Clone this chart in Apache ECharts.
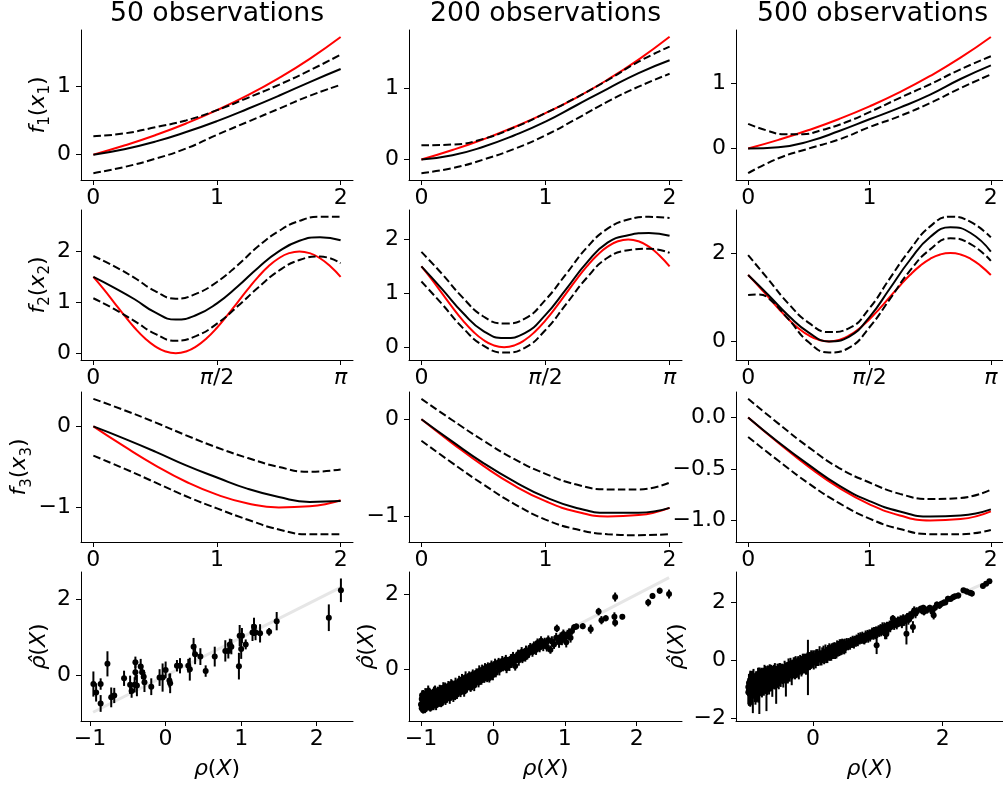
<!DOCTYPE html>
<html><head><meta charset="utf-8">
<script src="https://cdn.jsdelivr.net/npm/echarts@6/dist/echarts.min.js"></script>
<style>html,body{margin:0;padding:0;background:#fff}#c{width:1003px;height:786px}</style>
</head><body><div id="c"></div>
<script>
// ---------------- data ----------------
const titles = ['50 observations', '200 observations', '500 observations'];

// row 1 : f1
const x025 = [0, 0.25, 0.5, 0.75, 1, 1.25, 1.5, 1.75, 2];
const f1True = [0, 0.133, 0.284, 0.455, 0.649, 0.868, 1.117, 1.399, 1.718];
const f1Est50 = [0, 0.08, 0.19, 0.33, 0.49, 0.67, 0.86, 1.06, 1.25];
const f1Up50 = [0.27, 0.31, 0.40, 0.50, 0.65, 0.83, 1.02, 1.23, 1.46];
const f1Lo50 = [-0.27, -0.18, -0.06, 0.09, 0.29, 0.48, 0.67, 0.86, 1.02];
const f1Est200 = [0, 0.06, 0.18, 0.34, 0.53, 0.76, 0.99, 1.21, 1.39];
const f1Up200 = [0.20, 0.21, 0.29, 0.45, 0.65, 0.87, 1.11, 1.37, 1.58];
const f1Lo200 = [-0.19, -0.12, 0.0, 0.15, 0.34, 0.57, 0.81, 1.02, 1.20];
const f1Est500 = [0, 0.02, 0.11, 0.27, 0.45, 0.63, 0.83, 1.07, 1.28];
const f1Up500X = [0, 0.15, 0.3, 0.45, 0.6, 0.8, 1, 1.25, 1.5, 1.75, 2];
const f1Up500 = [0.38, 0.28, 0.22, 0.22, 0.28, 0.40, 0.56, 0.78, 0.99, 1.22, 1.42];
const f1Lo500 = [-0.38, -0.15, 0.0, 0.14, 0.33, 0.50, 0.70, 0.93, 1.14];

// row 2 : f2
const xPi24 = [0, 0.1309, 0.2618, 0.3927, 0.5236, 0.6545, 0.7854, 0.9163, 1.0472, 1.1781, 1.309, 1.4399, 1.5708, 1.7017, 1.8326, 1.9635, 2.0944, 2.2253, 2.3562, 2.4871, 2.618, 2.7489, 2.8798, 3.0107, 3.1416];
const f2True = [1.5, 1.259, 1, 0.741, 0.5, 0.293, 0.134, 0.034, 0, 0.034, 0.134, 0.293, 0.5, 0.741, 1, 1.259, 1.5, 1.707, 1.866, 1.966, 2, 1.966, 1.866, 1.707, 1.5];
const xPi12 = [0, 0.2618, 0.5236, 0.7854, 1.0472, 1.309, 1.5708, 1.8326, 2.0944, 2.3562, 2.618, 2.8798, 3.1416];
const f2Est50 = [1.5, 1.29, 1.06, 0.80, 0.66, 0.75, 0.98, 1.31, 1.68, 2.0, 2.21, 2.28, 2.22];
const f2Up50 = [1.91, 1.71, 1.48, 1.22, 1.07, 1.17, 1.40, 1.73, 2.10, 2.40, 2.60, 2.68, 2.68];
const f2Lo50 = [1.08, 0.87, 0.63, 0.38, 0.245, 0.34, 0.58, 0.92, 1.29, 1.62, 1.83, 1.90, 1.77];
const f2Est200 = [1.5, 1.08, 0.64, 0.30, 0.17, 0.26, 0.60, 1.08, 1.57, 1.94, 2.08, 2.12, 2.07];
const f2Up200 = [1.77, 1.36, 0.92, 0.57, 0.44, 0.53, 0.88, 1.36, 1.85, 2.20, 2.37, 2.42, 2.40];
const f2Lo200 = [1.22, 0.80, 0.36, 0.03, -0.10, -0.01, 0.32, 0.80, 1.29, 1.66, 1.80, 1.83, 1.75];
const f2Est500 = [1.5, 1.05, 0.58, 0.20, 0.0, 0.11, 0.55, 1.19, 1.84, 2.36, 2.58, 2.45, 2.03];
const f2Up500 = [1.95, 1.40, 0.85, 0.42, 0.21, 0.30, 0.75, 1.42, 2.07, 2.60, 2.82, 2.70, 2.35];
const f2Lo500X = [0, 0.131, 0.2618, 0.5236, 0.7854, 1.0472, 1.309, 1.5708, 1.8326, 2.0944, 2.3562, 2.618, 2.8798, 3.1416];
const f2Lo500 = [1.05, 1.06, 0.98, 0.50, -0.02, -0.25, -0.14, 0.32, 0.95, 1.60, 2.08, 2.33, 2.20, 1.82];

// row 3 : f3
const f3True = [0, -0.247, -0.479, -0.682, -0.841, -0.949, -0.998, -0.984, -0.909];
const f3Est50 = [0, -0.15, -0.31, -0.48, -0.63, -0.77, -0.87, -0.93, -0.92];
const f3Up50 = [0.34, 0.20, 0.05, -0.11, -0.26, -0.39, -0.50, -0.56, -0.53];
const f3Lo50 = [-0.36, -0.52, -0.69, -0.86, -1.01, -1.15, -1.27, -1.33, -1.33];
const f3Est200 = [0, -0.23, -0.45, -0.64, -0.80, -0.91, -0.96, -0.96, -0.91];
const f3Up200 = [0.21, -0.01, -0.22, -0.41, -0.56, -0.67, -0.72, -0.72, -0.65];
const f3Lo200 = [-0.22, -0.45, -0.67, -0.87, -1.03, -1.13, -1.18, -1.19, -1.18];
const f3Est500 = [0, -0.24, -0.46, -0.66, -0.81, -0.91, -0.96, -0.95, -0.89];
const f3Up500 = [0.18, -0.06, -0.29, -0.49, -0.63, -0.74, -0.79, -0.78, -0.70];
const f3Lo500 = [-0.19, -0.42, -0.64, -0.83, -0.98, -1.08, -1.13, -1.13, -1.09];

// row 4 : [rho(X), rhoHat(X), error]
const obs50 = [[-0.956,-0.22,.33],[-0.92,-0.44,.24],[-0.86,-0.22,.15],[-0.86,-0.73,.22],[-0.77,0.31,.33],[-0.72,-0.57,.26],[-0.68,-0.52,.2],[-0.55,-0.07,.2],[-0.47,-0.24,.24],[-0.45,-0.4,.18],[-0.41,-0.24,.2],[-0.4,0.35,.15],[-0.4,0.09,.2],[-0.38,-0.26,.28],[-0.33,0.24,.2],[-0.31,0.09,.18],[-0.29,-0.03,.18],[-0.28,-0.17,.26],[-0.19,-0.29,.22],[-0.08,-0.05,.22],[-0.04,-0.05,.37],[0.0,0.15,.22],[0.05,-0.13,.18],[0.06,-0.2,.26],[0.15,0.26,.15],[0.19,0.26,.2],[0.3,0.26,.18],[0.32,0.17,.3],[0.37,0.76,.23],[0.39,0.56,.26],[0.46,0.5,.22],[0.53,0.12,.15],[0.65,0.5,.26],[0.79,0.65,.28],[0.83,0.65,.2],[0.85,0.82,.15],[0.87,0.76,.2],[0.97,0.25,.35],[0.98,1.05,.28],[1.0,0.7,.26],[1.01,1.05,.2],[1.06,0.82,.13],[1.15,1.13,.22],[1.17,1.28,.24],[1.19,1.13,.2],[1.25,1.11,.24],[1.37,1.15,.1],[1.47,1.43,.24],[2.16,1.52,.35],[2.32,2.24,.31]];

const obs200 = [[-1.00,-0.95,.12],[-0.99,-1.05,.10],[-0.99,-0.80,.14],[-0.98,-0.90,.12],[-0.97,-1.10,.09],[-0.97,-0.72,.16],[-0.96,-0.98,.11],[-0.95,-0.85,.13],[-0.95,-1.02,.10],[-0.94,-0.66,.15],[-0.93,-0.93,.12],[-0.92,-0.78,.18],[-0.91,-1.00,.10],[-0.90,-0.88,.13],[-0.90,-0.58,.14],[-0.89,-0.95,.11],[-0.88,-0.74,.12],[-0.87,-1.04,.10],[-0.86,-0.83,.15],[-0.85,-0.68,.12],[-0.84,-0.92,.11],[-0.83,-0.78,.16],[-0.82,-0.60,.13],[-0.81,-0.88,.12],[-0.80,-0.71,.10],[-0.79,-0.97,.13],[-0.78,-0.80,.12],[-0.77,-0.62,.15],[-0.76,-0.75,.11],[-0.75,-0.86,.14],[-0.74,-0.55,.13],[-0.73,-0.70,.12],[-0.72,-0.92,.10],[-0.71,-0.66,.14],[-0.70,-0.78,.12],[-0.69,-0.50,.15],[-0.68,-0.72,.11],[-0.67,-0.60,.13],[-0.66,-0.84,.12],[-0.65,-0.68,.10],[-0.64,-0.55,.14],[-0.63,-0.73,.12],[-0.62,-0.45,.13],[-0.61,-0.62,.11],[-0.60,-0.78,.15],[-0.59,-0.57,.12],[-0.58,-0.40,.13],[-0.57,-0.66,.12],[-0.56,-0.52,.10],[-0.55,-0.74,.14],[-0.54,-0.48,.12],[-0.53,-0.60,.13],[-0.52,-0.38,.15],[-0.51,-0.55,.11],[-0.50,-0.68,.12],
[-0.985,-0.70,.13],[-0.965,-0.88,.15],[-0.945,-1.08,.1],[-0.925,-0.75,.12],[-0.905,-0.96,.14],[-0.885,-0.62,.12],[-0.865,-0.94,.11],[-0.845,-0.70,.13],[-0.825,-0.98,.12],[-0.805,-0.58,.14],[-0.785,-0.85,.12],[-0.765,-0.68,.13],[-0.745,-0.90,.11],[-0.725,-0.58,.15],[-0.705,-0.86,.12],[-0.685,-0.64,.13],[-0.665,-0.48,.12],[-0.645,-0.75,.14],[-0.625,-0.62,.12],[-0.605,-0.50,.13],[-0.585,-0.70,.11],[-0.565,-0.44,.14],[-0.545,-0.62,.12],[-0.525,-0.70,.13],
[-0.49,-0.44,.13],[-0.48,-0.58,.12],[-0.47,-0.32,.14],[-0.46,-0.50,.11],[-0.45,-0.62,.13],[-0.44,-0.40,.12],[-0.43,-0.28,.15],[-0.42,-0.52,.12],[-0.41,-0.36,.10],[-0.40,-0.60,.14],[-0.39,-0.45,.12],[-0.38,-0.22,.16],[-0.37,-0.38,.11],[-0.36,-0.50,.13],[-0.35,-0.30,.12],[-0.34,-0.42,.14],[-0.33,-0.18,.12],[-0.32,-0.35,.13],[-0.31,-0.50,.11],[-0.30,-0.25,.14],[-0.29,-0.38,.12],[-0.28,-0.14,.13],[-0.27,-0.30,.12],[-0.26,-0.44,.15],[-0.25,-0.22,.11],[-0.24,-0.34,.13],[-0.23,-0.10,.12],[-0.22,-0.28,.14],[-0.21,-0.18,.12],[-0.20,-0.36,.13],[-0.19,-0.05,.15],[-0.18,-0.22,.11],[-0.17,-0.12,.13],[-0.16,-0.30,.12],[-0.15,-0.02,.14],[-0.14,-0.18,.12],[-0.13,-0.08,.13],[-0.12,-0.26,.11],[-0.11,0.02,.14],[-0.10,-0.14,.12],[-0.09,-0.04,.13],[-0.08,-0.20,.15],[-0.07,0.06,.12],[-0.06,-0.10,.13],[-0.05,-0.24,.12],[-0.04,0.00,.14],[-0.03,-0.12,.12],[-0.02,0.10,.13],[-0.01,-0.06,.12],[0.00,-0.16,.14],
[0.01,0.04,.12],[0.03,0.14,.14],[0.04,-0.10,.12],[0.06,0.08,.13],[0.08,0.18,.12],[0.09,-0.02,.15],[0.11,0.12,.12],[0.13,0.22,.13],[0.14,0.06,.12],[0.16,0.16,.14],[0.18,0.26,.12],[0.19,0.02,.13],[0.21,0.20,.12],[0.23,0.10,.15],[0.25,0.28,.12],[0.26,0.16,.13],[0.28,0.34,.12],[0.30,0.22,.14],[0.31,0.08,.12],[0.33,0.30,.13],[0.35,0.40,.12],[0.36,0.24,.15],[0.38,0.36,.12],[0.40,0.46,.13],[0.41,0.28,.12],[0.43,0.40,.14],[0.45,0.32,.12],[0.46,0.50,.13],[0.48,0.38,.12],[0.50,0.44,.14],
[0.52,0.58,.12],[0.55,0.46,.13],[0.57,0.62,.12],[0.60,0.52,.14],[0.62,0.70,.12],[0.65,0.58,.13],[0.67,0.76,.12],[0.70,0.62,.14],[0.72,0.72,.12],[0.75,0.60,.13],[0.77,0.78,.12],[0.80,0.52,.11],[0.82,0.74,.14],[0.85,0.66,.12],[0.88,0.84,.13],[0.89,1.09,.10],[0.92,0.72,.15],[0.94,0.86,.12],[0.96,0.78,.14],[0.98,0.94,.12],[1.00,0.85,.13],[1.02,0.72,.14],[1.04,0.92,.12],[1.06,0.98,.11],[1.08,0.84,.13],[1.10,1.02,.10],[1.13,1.12,.08],[1.16,1.14,.08],
[1.25,1.15,.08],[1.36,1.07,.12],[1.47,1.54,.1],[1.51,1.31,.11],[1.57,1.36,.08],[1.69,1.40,.12],[1.70,1.93,.12],[1.70,1.24,.1],[1.80,1.40,.07],[2.16,1.78,.1],[2.22,1.96,.08],[2.32,2.10,.08],[2.45,2.01,.12]];

const obs500 = [[-1.00,-0.92,.30],[-1.00,-1.10,.42],[-0.99,-0.78,.25],[-0.99,-1.02,.55],[-0.98,-0.88,.35],[-0.98,-1.15,.30],[-0.97,-0.70,.28],[-0.97,-0.98,.62],[-0.96,-0.84,.40],[-0.96,-1.20,.35],[-0.95,-0.95,.30],[-0.95,-0.75,.38],[-0.94,-1.05,.45],[-0.94,-0.85,.28],[-0.93,-1.12,.70],[-0.93,-0.68,.32],[-0.92,-0.95,.36],[-0.92,-0.80,.50],[-0.91,-1.02,.30],[-0.91,-0.72,.26],[-0.90,-0.88,.42],[-0.90,-1.10,.34],[-0.89,-0.78,.30],[-0.89,-0.98,.55],[-0.88,-0.66,.28],[-0.88,-0.90,.36],[-0.87,-1.05,.40],[-0.87,-0.82,.30],[-0.86,-0.72,.34],[-0.86,-0.96,.46],[-0.85,-0.85,.28],[-0.85,-0.62,.36],[-0.84,-0.92,.30],[-0.84,-1.08,.38],[-0.83,-0.78,.32],[-0.83,-1.05,.80],[-0.82,-0.68,.34],[-0.82,-0.90,.28],[-0.81,-0.80,.42],[-0.81,-0.60,.30],[-0.80,-0.88,.36],[-0.80,-0.74,.48],[-0.79,-0.96,.32],[-0.79,-0.66,.28],[-0.78,-0.80,.40],[-0.78,-0.58,.30],[-0.77,-0.86,.34],[-0.77,-0.72,.46],[-0.76,-0.64,.32],[-0.76,-0.92,.30],[-0.75,-0.78,.36],[-0.75,-0.56,.40],[-0.74,-0.84,.30],[-0.74,-0.70,.34],[-0.73,-0.62,.42],[-0.73,-0.88,.28],[-0.72,-0.74,.32],[-0.72,-1.00,.75],[-0.71,-0.60,.30],[-0.71,-0.82,.38],[-0.70,-0.70,.28],[-0.70,-0.52,.34],[-0.69,-0.78,.32],[-0.69,-0.64,.44],[-0.68,-0.58,.30],[-0.68,-0.84,.34],[-0.67,-0.70,.28],[-0.67,-0.50,.36],[-0.66,-0.76,.32],[-0.66,-0.62,.30],[-0.65,-0.66,.40],[-0.65,-0.48,.32],[-0.64,-0.74,.28],[-0.64,-0.58,.34],[-0.63,-0.64,.30],[-0.63,-0.84,.42],[-0.62,-0.52,.32],[-0.62,-0.70,.28],[-0.61,-0.60,.36],[-0.61,-0.46,.30],[-0.60,-0.68,.32],[-0.60,-0.54,.34],[-0.59,-0.72,.28],[-0.59,-0.48,.38],[-0.58,-0.62,.30],[-0.58,-0.52,.32],[-0.57,-0.66,.34],[-0.57,-0.85,.65],[-0.56,-0.50,.28],[-0.56,-0.62,.32],[-0.55,-0.58,.36],[-0.55,-0.42,.30],[-0.54,-0.62,.28],[-0.54,-0.48,.34],[-0.53,-0.56,.32],[-0.53,-0.70,.30],[-0.52,-0.46,.36],[-0.52,-0.60,.28],[-0.51,-0.54,.32],[-0.51,-0.40,.30],[-0.50,-0.58,.34],[-0.50,-0.48,.28],
[-0.49,-0.44,.26],[-0.49,-0.58,.22],[-0.48,-0.40,.28],[-0.48,-0.54,.24],[-0.47,-0.52,.30],[-0.47,-0.36,.22],[-0.46,-0.46,.26],[-0.46,-0.60,.34],[-0.45,-0.38,.24],[-0.45,-0.50,.28],[-0.44,-0.46,.22],[-0.44,-0.32,.30],[-0.43,-0.44,.26],[-0.43,-0.56,.24],[-0.42,-0.36,.28],[-0.42,-0.70,.55],[-0.41,-0.34,.24],[-0.41,-0.48,.26],[-0.40,-0.40,.30],[-0.40,-0.28,.22],[-0.39,-0.44,.26],[-0.39,-0.52,.28],[-0.38,-0.34,.24],[-0.38,-0.24,.30],[-0.37,-0.42,.26],[-0.37,-0.30,.22],[-0.36,-0.46,.28],[-0.36,-0.26,.24],[-0.35,-0.36,.26],[-0.35,-0.22,.30],[-0.34,-0.40,.22],[-0.34,-0.30,.26],[-0.33,-0.28,.28],[-0.33,-0.46,.40],[-0.32,-0.24,.26],[-0.32,-0.36,.30],[-0.31,-0.22,.22],[-0.31,-0.38,.24],[-0.30,-0.30,.28],[-0.30,-0.16,.26],[-0.29,-0.34,.24],[-0.29,-0.22,.22],[-0.28,-0.20,.30],[-0.28,-0.40,.26],[-0.27,-0.28,.24],[-0.27,-0.14,.28],[-0.26,-0.24,.22],[-0.26,-0.36,.26],[-0.25,-0.18,.24],[-0.25,-0.30,.30],[-0.24,-0.16,.26],[-0.24,-0.34,.22],[-0.23,-0.24,.28],[-0.23,-0.10,.24],[-0.22,-0.20,.26],[-0.22,-0.34,.32],[-0.21,-0.14,.22],[-0.21,-0.26,.24],[-0.20,-0.20,.28],[-0.20,-0.08,.26],[-0.19,-0.24,.24],[-0.19,-0.12,.22],[-0.18,-0.16,.30],[-0.18,-0.30,.26],[-0.17,-0.10,.24],[-0.17,-0.22,.28],[-0.16,-0.14,.22],[-0.16,-0.04,.26],[-0.15,-0.20,.24],[-0.15,-0.08,.30],[-0.14,-0.12,.26],[-0.14,-0.24,.22],[-0.13,-0.06,.28],[-0.13,-0.16,.24],[-0.12,-0.10,.26],[-0.12,0.00,.22],[-0.11,-0.08,.24],[-0.11,-0.20,.30],[-0.10,-0.04,.26],[-0.10,-0.14,.22],[-0.09,-0.02,.28],[-0.08,-0.25,.95],[-0.08,-0.06,.24],[-0.07,0.02,.26],[-0.07,-0.10,.22],[-0.06,-0.04,.28],[-0.05,0.04,.24],[-0.05,-0.08,.26],[-0.04,-0.02,.22],[-0.03,0.06,.28],[-0.03,-0.06,.24],[-0.02,0.00,.26],[-0.01,0.06,.22],
[0.00,-0.04,.22],[0.00,0.08,.26],[0.01,-0.08,.24],[0.02,0.04,.20],[0.03,0.12,.22],[0.04,-0.04,.24],[0.05,0.10,.28],[0.06,0.00,.20],[0.07,0.16,.22],[0.08,0.04,.24],[0.09,0.12,.20],[0.10,0.22,.26],[0.11,0.04,.22],[0.12,0.14,.20],[0.13,0.06,.24],[0.14,0.22,.22],[0.15,0.10,.20],[0.16,0.24,.26],[0.17,0.08,.22],[0.18,0.18,.20],[0.19,0.30,.24],[0.20,0.12,.22],[0.21,0.26,.20],[0.22,0.14,.24],[0.23,0.30,.22],[0.24,0.18,.20],[0.25,0.32,.26],[0.26,0.20,.22],[0.27,0.34,.20],[0.28,0.22,.24],[0.29,0.36,.22],[0.30,0.24,.20],[0.31,0.38,.22],[0.32,0.28,.24],[0.33,0.42,.20],[0.34,0.26,.22],[0.35,0.40,.20],[0.36,0.30,.24],[0.37,0.46,.22],[0.38,0.32,.20],[0.39,0.44,.22],[0.40,0.34,.20],[0.41,0.48,.24],[0.42,0.36,.20],[0.43,0.50,.22],[0.44,0.38,.20],[0.45,0.52,.22],[0.46,0.42,.20],[0.47,0.54,.18],[0.48,0.40,.20],[0.49,0.56,.18],[0.50,0.44,.20],
[0.51,0.50,.16],[0.52,0.58,.18],[0.54,0.50,.16],[0.55,0.62,.14],[0.57,0.54,.18],[0.58,0.64,.16],[0.60,0.56,.14],[0.61,0.68,.16],[0.63,0.58,.18],[0.64,0.70,.14],[0.66,0.62,.16],[0.67,0.74,.14],[0.69,0.64,.16],[0.70,0.76,.18],[0.72,0.68,.14],[0.73,0.80,.16],[0.75,0.70,.14],[0.76,0.82,.16],[0.78,0.74,.18],[0.79,0.68,.14],[0.81,0.86,.16],[0.82,0.76,.14],[0.84,0.88,.16],[0.85,0.78,.18],[0.87,0.92,.14],[0.88,0.80,.16],[0.90,0.90,.14],[0.91,0.96,.16],[0.93,0.84,.14],[0.94,0.98,.16],[0.96,0.90,.18],[0.97,1.02,.14],[0.98,0.51,.30],[0.99,0.92,.16],[1.01,1.06,.14],[1.02,0.96,.16],[1.04,1.10,.14],[1.05,0.98,.16],[1.07,1.12,.18],[1.08,1.02,.14],[1.10,1.14,.16],[1.11,0.92,.20],[1.13,0.90,.18],[1.14,1.18,.14],[1.16,1.08,.16],[1.18,1.22,.14],[1.19,1.12,.16],[1.21,1.26,.14],[1.23,1.43,.12],[1.25,1.20,.16],[1.27,1.32,.14],[1.29,1.22,.16],[1.31,1.36,.14],[1.33,1.31,.16],[1.35,1.40,.14],[1.37,1.26,.16],[1.39,1.44,.14],[1.41,1.34,.16],[1.44,0.91,.37],[1.45,1.48,.14],[1.47,1.38,.16],[1.49,1.54,.14],[1.51,1.49,.16],[1.53,1.58,.14],[1.54,1.62,.16],[1.54,1.14,.2],[1.56,1.71,.14],[1.58,1.60,.16],[1.60,1.68,.14],
[1.66,1.77,.10],[1.68,1.70,.12],[1.70,1.80,.10],[1.71,1.66,.12],[1.73,1.74,.10],[1.76,1.72,.12],[1.80,1.80,.10],[1.84,1.66,.12],[1.86,1.54,.14],[1.88,1.80,.10],[1.91,1.91,.10],[1.95,1.88,.12],[1.98,1.94,.10],[2.02,1.98,.10],[2.04,1.98,.08],[2.08,2.11,.10],[2.12,2.10,.08],[2.16,2.16,.10],[2.19,2.20,.08],[2.24,2.22,.10],[2.32,2.40,.08],[2.37,2.36,.10],[2.42,2.32,.08],[2.45,2.29,.10],[2.62,2.55,.08],[2.67,2.63,.08],[2.72,2.71,.08]];

// identity reference line ends (rho = rhoHat)
const diag50 = [-0.96, 2.33];
const diag200 = [-1.0, 2.45];
const diag500 = [-1.0, 2.75];

// axis ranges and ticks
const xRanges = [
  [[-0.1, 2.1], [-0.1, 2.1], [-0.1, 2.1]],
  [[-0.157, 3.299], [-0.157, 3.299], [-0.157, 3.299]],
  [[-0.1, 2.1], [-0.1, 2.1], [-0.1, 2.1]],
  [[-1.12, 2.48], [-1.167, 2.63], [-1.19, 2.93]]
];
const yRanges = [
  [[-0.37, 1.82], [-0.286, 1.813], [-0.485, 1.825]],
  [[-0.134, 2.814], [-0.237, 2.547], [-0.42, 2.97]],
  [[-1.424, 0.424], [-1.26, 0.28], [-1.206, 0.246]],
  [[-1.19, 2.72], [-1.39, 2.6], [-2.09, 3.03]]
];
const xTicks = [
  [[0, 1, 2], [0, 1, 2], [0, 1, 2]],
  [[0, 1.5708, 3.1416], [0, 1.5708, 3.1416], [0, 1.5708, 3.1416]],
  [[0, 1, 2], [0, 1, 2], [0, 1, 2]],
  [[-1, 0, 1, 2], [-1, 0, 1, 2], [0, 2]]
];
const yTicks = [
  [[0, 1], [0, 1], [0, 1]],
  [[0, 1, 2], [0, 1, 2], [0, 2]],
  [[-1, 0], [-1, 0], [-1, -0.5, 0]],
  [[0, 2], [0, 2], [-2, 0, 2]]
];
const piTickLabels = ['0', '{i|π}/2', '{i|π}'];
const yNames = ['{i|f}{s|1}{n|(}{i|x}{s|1}{n|)}', '{i|f}{s|2}{n|(}{i|x}{s|2}{n|)}', '{i|f}{s|3}{n|(}{i|x}{s|3}{n|)}', '{i|ρ̂}{n|(}{i|X}{n|)}'];
const xNameBottom = '{i|ρ}{n|(}{i|X}{n|)}';

// ---------------- layout ----------------
const colLeft = [81, 409, 736], colWidth = [272, 273, 273];
const rowTop = [30, 210, 392, 572], rowHeight = [150, 150, 150, 149];
const FONT = 'DejaVu Sans';
const FS = 22;

const curves = [
  [
    {t: [x025, f1True], e: [x025, f1Est50], u: [x025, f1Up50], l: [x025, f1Lo50]},
    {t: [x025, f1True], e: [x025, f1Est200], u: [x025, f1Up200], l: [x025, f1Lo200]},
    {t: [x025, f1True], e: [x025, f1Est500], u: [f1Up500X, f1Up500], l: [x025, f1Lo500]}
  ],
  [
    {t: [xPi24, f2True], e: [xPi12, f2Est50], u: [xPi12, f2Up50], l: [xPi12, f2Lo50]},
    {t: [xPi24, f2True], e: [xPi12, f2Est200], u: [xPi12, f2Up200], l: [xPi12, f2Lo200]},
    {t: [xPi24, f2True], e: [xPi12, f2Est500], u: [xPi12, f2Up500], l: [f2Lo500X, f2Lo500]}
  ],
  [
    {t: [x025, f3True], e: [x025, f3Est50], u: [x025, f3Up50], l: [x025, f3Lo50]},
    {t: [x025, f3True], e: [x025, f3Est200], u: [x025, f3Up200], l: [x025, f3Lo200]},
    {t: [x025, f3True], e: [x025, f3Est500], u: [x025, f3Up500], l: [x025, f3Lo500]}
  ]
];
const scatterSets = [obs50, obs200, obs500];
const diags = [diag50, diag200, diag500];

const zip = (xs, ys) => xs.map((x, i) => [x, ys[i]]);
const minus = s => String(s).replace('-', '\u2212');
const richTick = {i: {fontStyle: 'italic', fontFamily: FONT, fontSize: FS, color: '#000'}};
const richName = {
  i: {fontStyle: 'italic', fontFamily: FONT, fontSize: FS, color: '#000', lineHeight: 30, verticalAlign: 'middle'},
  n: {fontFamily: FONT, fontSize: FS, color: '#000', lineHeight: 30, verticalAlign: 'middle'},
  s: {fontFamily: FONT, fontSize: 15, color: '#000', lineHeight: 15, verticalAlign: 'bottom'}
};

const grid = [], xAxis = [], yAxis = [], series = [];
for (let r = 0; r < 4; r++) {
  for (let c = 0; c < 3; c++) {
    const idx = r * 3 + c;
    grid.push({left: colLeft[c], top: rowTop[r], width: colWidth[c], height: rowHeight[r], containLabel: false});
    const xa = {
      type: 'value', gridIndex: idx, min: xRanges[r][c][0], max: xRanges[r][c][1],
      axisLine: {show: true, onZero: false, lineStyle: {color: '#000', width: 1}},
      axisTick: {show: true, length: 5, customValues: xTicks[r][c], lineStyle: {color: '#000', width: 1}},
      axisLabel: {
        customValues: xTicks[r][c], fontSize: FS, fontFamily: FONT, color: '#000', margin: 7,
        rich: richTick,
        formatter: r === 1 ? (v) => piTickLabels[xTicks[1][0].findIndex(t => Math.abs(t - v) < 1e-3)] : (v) => minus(v)
      },
      splitLine: {show: false}
    };
    if (r === 3) {
      xa.name = xNameBottom; xa.nameLocation = 'middle'; xa.nameGap = 33;
      xa.nameTextStyle = {fontSize: FS, fontFamily: FONT, color: '#000', rich: richName};
    }
    xAxis.push(xa);
    const ya = {
      type: 'value', gridIndex: idx, min: yRanges[r][c][0], max: yRanges[r][c][1],
      axisLine: {show: true, onZero: false, lineStyle: {color: '#000', width: 1}},
      axisTick: {show: true, length: 5, customValues: yTicks[r][c], lineStyle: {color: '#000', width: 1}},
      axisLabel: {
        customValues: yTicks[r][c], fontSize: FS, fontFamily: FONT, color: '#000', margin: 10,
        formatter: (r === 2 && c === 2) ? (v) => minus(v.toFixed(1)) : (v) => minus(v)
      },
      splitLine: {show: false}
    };
    if (c === 0 || r === 3) {
      ya.name = yNames[r]; ya.nameLocation = 'middle'; ya.nameRotate = 90;
      ya.nameGap = (r === 3 && c === 2) ? 44 : 27;
      ya.nameTextStyle = {fontSize: FS, fontFamily: FONT, color: '#000', rich: richName};
    }
    yAxis.push(ya);

    if (r < 3) {
      const cv = curves[r][c];
      const base = {type: 'line', xAxisIndex: idx, yAxisIndex: idx, showSymbol: false, smooth: true, animation: false, silent: true};
      series.push(Object.assign({}, base, {data: zip(cv.t[0], cv.t[1]), lineStyle: {color: '#ff0000', width: 2}, z: 2}));
      series.push(Object.assign({}, base, {data: zip(cv.e[0], cv.e[1]), lineStyle: {color: '#000', width: 2}, z: 3}));
      series.push(Object.assign({}, base, {data: zip(cv.u[0], cv.u[1]), lineStyle: {color: '#000', width: 2, type: [7.7, 3.3]}, z: 3}));
      series.push(Object.assign({}, base, {data: zip(cv.l[0], cv.l[1]), lineStyle: {color: '#000', width: 2, type: [7.7, 3.3]}, z: 3}));
    } else {
      const d = diags[c];
      series.push({type: 'line', xAxisIndex: idx, yAxisIndex: idx, showSymbol: false, animation: false, silent: true,
        data: [[d[0], d[0]], [d[1], d[1]]], lineStyle: {color: '#e6e6e6', width: 3}, z: 1});
      series.push({
        type: 'custom', xAxisIndex: idx, yAxisIndex: idx, data: scatterSets[c], animation: false, silent: true, z: 3,
        encode: {x: 0, y: 1},
        renderItem: (params, api) => {
          const x = api.value(0), y = api.value(1), e = api.value(2);
          const p1 = api.coord([x, y - e]), p2 = api.coord([x, y + e]), p = api.coord([x, y]);
          return {type: 'group', children: [
            {type: 'line', shape: {x1: p1[0], y1: p1[1], x2: p2[0], y2: p2[1]}, style: {stroke: '#000', lineWidth: 2}},
            {type: 'circle', shape: {cx: p[0], cy: p[1], r: 3}, style: {fill: '#000'}}
          ]};
        }
      });
    }
  }
}

const graphic = titles.map((t, c) => ({
  type: 'text', x: colLeft[c] + colWidth[c] / 2, y: 14,
  style: {text: t, fontSize: 26.7, fontFamily: FONT, fill: '#000', align: 'center', verticalAlign: 'middle',
          textAlign: 'center', textVerticalAlign: 'middle'}
}));

const chart = echarts.init(document.getElementById('c'), null, {renderer: 'canvas'});
chart.setOption({backgroundColor: '#fff', animation: false, grid, xAxis, yAxis, series, graphic});
</script>
</body></html>
